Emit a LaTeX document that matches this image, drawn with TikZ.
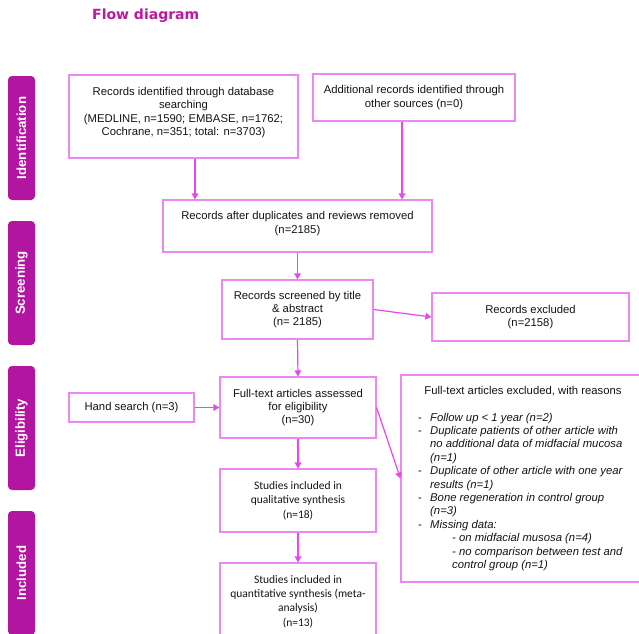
\documentclass[tikz,border=0pt]{standalone}
\usepackage{fontspec}
\setmainfont{Liberation Sans}
\newfontfamily\calfont{Carlito}
\newfontfamily\titlefont{DejaVu Sans}
\usetikzlibrary{arrows.meta}
\definecolor{sidec}{RGB}{178,22,160}
\definecolor{titlec}{RGB}{188,24,160}
\definecolor{boxc}{RGB}{236,136,242}
\definecolor{arrc}{RGB}{230,72,236}
\definecolor{txtc}{RGB}{20,20,20}
\tikzset{
  box/.style={draw=boxc, line width=1.1pt, align=center, inner sep=0pt, text=txtc,
    font=\fontsize{11.3}{13.3}\selectfont},
  calbox/.style={box, font=\calfont\fontsize{11.5}{14.3}\selectfont},
  side/.style={fill=sidec, rounded corners=4pt, rotate=90, text=white, inner sep=0pt,
    minimum height=27pt, minimum width=124pt, font=\bfseries\fontsize{13.2}{15}\selectfont},
  arr/.style={draw=arrc, line width=1.2pt, -{Triangle[length=6pt,width=6.5pt]}},
}
\begin{document}
\begin{tikzpicture}[x=1pt,y=-1pt]
\useasboundingbox (0,0) rectangle (639,633);
\fill[white] (0,0) rectangle (639,633);

\node[anchor=base west, text=titlec, inner sep=0pt, font=\titlefont\bfseries\fontsize{14}{17}\selectfont] (title) at (92,19) {Flow diagram};

\node[side] (sid) at (21.5,138) {Identification};
\node[side] (sscr) at (21.5,283) {Screening};
\node[side] (sel) at (21.5,428) {Eligibility};
\node[side] (sinc) at (21.5,573) {Included};

\node[box, minimum width=229pt, minimum height=83pt] (b1) at (183.5,116.5)
  {Records identified through database\\searching\\(MEDLINE, n=1590; EMBASE, n=1762;\\Cochrane, n=351; total: n=3703)\\[-3.3pt]~};
\node[box, minimum width=202pt, minimum height=47pt] (b2) at (414,97.5)
  {Additional records identified through\\other sources (n=0)};
\node[box, minimum width=269pt, minimum height=52pt] (b3) at (297.5,226)
  {Records after duplicates and reviews removed\\(n=2185)\\[-6.3pt]~};
\node[box, minimum width=151pt, minimum height=59pt] (b4) at (297.5,309.5)
  {Records screened by title\\\& abstract\\(n= 2185)};
\node[box, minimum width=197pt, minimum height=48pt] (rex) at (530.5,317)
  {Records excluded\\(n=2158)};
\node[box, minimum width=156pt, minimum height=61pt] (b5) at (298,407.5)
  {Full-text articles assessed\\for eligibility\\(n=30)};
\node[box, minimum width=125pt, minimum height=29pt] (hand) at (131.5,407.5)
  {Hand search (n=3)};
\node[box, minimum width=244pt, minimum height=207pt] (fex) at (523,478.5) {};
\node[text=txtc, font=\fontsize{11.3}{13.3}\selectfont, inner sep=0pt] (fext) at (523,391)
  {Full-text articles excluded, with reasons};
\node[anchor=north west, inner sep=0pt, text=txtc, font=\fontsize{11.3}{13.4}\selectfont] (fexl) at (418,411.5)
  {\begin{tabular}{@{}l@{}l@{}}
   \makebox[12pt][l]{-} & \textit{Follow up < 1 year (n=2)}\\
   \makebox[12pt][l]{-} & \textit{Duplicate patients of other article with}\\
    & \textit{no additional data of midfacial mucosa}\\
    & \textit{(n=1)}\\
   \makebox[12pt][l]{-} & \textit{Duplicate of other article with one year}\\
    & \textit{results (n=1)}\\
   \makebox[12pt][l]{-} & \textit{Bone regeneration in control group}\\
    & \textit{(n=3)}\\
   \makebox[12pt][l]{-} & \textit{Missing data:}\\
    & \hspace{22pt}\textit{- on midfacial musosa (n=4)}\\
    & \hspace{22pt}\textit{- no comparison between test and}\\
    & \hspace{22pt}\textit{control group (n=1)}
   \end{tabular}};
\node[calbox, minimum width=156pt, minimum height=63pt] (b6) at (298,500.5)
  {Studies included in\\qualitative synthesis\\(n=18)};
\node[calbox, minimum width=156pt, minimum height=77pt] (b7) at (298,601.5)
  {Studies included in\\quantitative synthesis (meta-\\analysis)\\(n=13)};

\draw[arr] ([xshift=11.5pt]b1.south) -- ([xshift=11.5pt]b1.south |- b3.north);
\draw[arr] ([xshift=-12pt]b2.south) -- ([xshift=-12pt]b2.south |- b3.north);
\draw[arr] (b3.south) -- (b4.north);
\draw[arr] (b4.east) -- (rex.west);
\draw[arr] (b4.south) -- (b5.north);
\draw[arr] (hand.east) -- (b5.west);
\draw[arr] (b5.east) -- (fex.west);
\draw[arr] (b5.south) -- (b6.north);
\draw[arr] (b6.south) -- (b7.north);
\end{tikzpicture}
\end{document}
